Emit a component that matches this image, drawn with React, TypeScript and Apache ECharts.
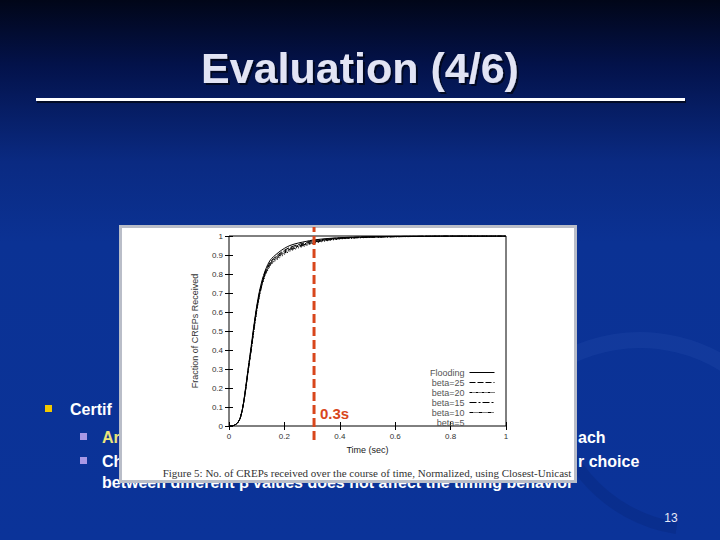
import React, { useEffect, useRef } from "react";
import * as echarts from "echarts";

// ---- data ----
const timeSec = [0, 0.01, 0.02, 0.03, 0.04, 0.05, 0.06, 0.07, 0.08, 0.09, 0.1, 0.11, 0.12, 0.13, 0.14, 0.15, 0.16, 0.18, 0.2, 0.22, 0.25, 0.28, 0.3, 0.35, 0.4, 0.45, 0.5, 0.6, 0.7, 0.8, 1.0];
const flooding = [0, 0, 0.005, 0.015, 0.04, 0.1, 0.2, 0.31, 0.42, 0.53, 0.63, 0.71, 0.77, 0.815, 0.85, 0.875, 0.89, 0.915, 0.935, 0.95, 0.963, 0.972, 0.978, 0.986, 0.991, 0.994, 0.996, 0.998, 0.999, 1, 1];
const beta25 = [0, 0, 0.005, 0.015, 0.04, 0.1, 0.2, 0.31, 0.41, 0.52, 0.62, 0.7, 0.76, 0.81, 0.84, 0.865, 0.88, 0.905, 0.925, 0.94, 0.955, 0.967, 0.974, 0.984, 0.99, 0.993, 0.995, 0.998, 0.999, 1, 1];
const beta20 = [0, 0, 0.005, 0.015, 0.04, 0.1, 0.19, 0.3, 0.41, 0.52, 0.62, 0.7, 0.755, 0.805, 0.835, 0.86, 0.875, 0.9, 0.92, 0.935, 0.95, 0.962, 0.97, 0.981, 0.988, 0.992, 0.995, 0.997, 0.999, 1, 1];
const beta15 = [0, 0, 0.005, 0.015, 0.04, 0.1, 0.19, 0.3, 0.4, 0.51, 0.61, 0.69, 0.75, 0.8, 0.83, 0.855, 0.87, 0.895, 0.915, 0.93, 0.946, 0.958, 0.967, 0.979, 0.987, 0.991, 0.994, 0.997, 0.999, 1, 1];
const beta10 = [0, 0, 0.005, 0.015, 0.04, 0.1, 0.19, 0.3, 0.4, 0.51, 0.61, 0.69, 0.75, 0.795, 0.825, 0.85, 0.865, 0.89, 0.91, 0.925, 0.942, 0.955, 0.964, 0.977, 0.986, 0.99, 0.993, 0.996, 0.998, 1, 1];
const beta5 = [0, 0, 0.005, 0.015, 0.04, 0.1, 0.19, 0.3, 0.4, 0.5, 0.6, 0.68, 0.745, 0.79, 0.82, 0.845, 0.86, 0.883, 0.903, 0.92, 0.937, 0.95, 0.96, 0.974, 0.984, 0.989, 0.992, 0.996, 0.998, 1, 1];

const seriesNames = ["Flooding", "beta=25", "beta=20", "beta=15", "beta=10", "beta=5"];
const seriesValues = [flooding, beta25, beta20, beta15, beta10, beta5];
const dashPatterns: any[] = ["solid", [6, 2], [3, 1, 1, 1], [7, 2, 2, 2], [4, 1, 1, 1, 1, 1], [1, 2]];

const cutoffTime = 0.307;
const cutoffLabel = "0.3s";

const xTicks = { min: 0, max: 1, interval: 0.2 };
const yTicks = { min: 0, max: 1, interval: 0.1 };

const titleText = "Evaluation (4/6)";
const captionText = "Figure 5: No. of CREPs received over the course of time, Normalized, using Closest-Unicast";

const SANS = "'Liberation Sans', Arial, sans-serif";

export default function App() {
  const ref = useRef<HTMLDivElement>(null);

  useEffect(() => {
    if (!ref.current) return;
    const chart = echarts.init(ref.current, undefined, { renderer: "svg" });

    const curveSeries = seriesNames.map((name, i) => ({
      name,
      type: "line",
      xAxisIndex: 0,
      yAxisIndex: 0,
      symbol: "none",
      smooth: 0.3,
      z: 6,
      lineStyle: { color: "#000", width: 1, type: dashPatterns[i] },
      itemStyle: { color: "#000" },
      data: timeSec.map((t, k) => [t, seriesValues[i][k]]),
    }));

    const slideText = (text: string, x: number, y: number, color = "#ffffff", extra: any = {}) => ({
      type: "text",
      z: 1,
      x,
      y,
      style: {
        text,
        fill: color,
        font: `bold 16px ${SANS}`,
        textVerticalAlign: "middle",
        verticalAlign: "middle",
        ...extra,
      },
    });

    const option: any = {
      animation: false,
      grid: [
        { left: 229, top: 236, width: 277, height: 190, show: true, borderColor: "#000", borderWidth: 1, backgroundColor: "transparent", z: 3 },
        { left: 229, top: 227, width: 277, height: 213, show: false, z: 3 },
      ],
      xAxis: [
        {
          type: "value", gridIndex: 0, position: "bottom", ...xTicks, z: 4,
          name: "Time (sec)", nameLocation: "middle", nameGap: 19,
          nameTextStyle: { fontFamily: SANS, fontSize: 9, color: "#222" },
          axisLine: { show: false },
          axisTick: { show: true, inside: true, length: 4, lineStyle: { color: "#000" } },
          axisLabel: { fontFamily: SANS, fontSize: 8, color: "#333", margin: 6 },
          splitLine: { show: false },
        },
        {
          type: "value", gridIndex: 0, position: "top", ...xTicks, z: 4,
          axisLine: { show: false },
          axisTick: { show: true, inside: true, length: 4, lineStyle: { color: "#000" } },
          axisLabel: { show: false },
          splitLine: { show: false },
        },
        { type: "value", gridIndex: 1, min: 0, max: 1, show: false },
      ],
      yAxis: [
        {
          type: "value", gridIndex: 0, position: "left", ...yTicks, z: 4,
          name: "Fraction of CREPs Received", nameLocation: "middle", nameGap: 30, nameRotate: 90,
          nameTextStyle: { fontFamily: SANS, fontSize: 9, color: "#333" },
          axisLine: { show: false },
          axisTick: { show: true, inside: true, length: 4, lineStyle: { color: "#000" } },
          axisLabel: { fontFamily: SANS, fontSize: 8, color: "#333", margin: 6 },
          splitLine: { show: false },
        },
        {
          type: "value", gridIndex: 0, position: "right", ...yTicks, z: 4,
          axisLine: { show: false },
          axisTick: { show: true, inside: true, length: 4, lineStyle: { color: "#000" } },
          axisLabel: { show: false },
          splitLine: { show: false },
        },
        { type: "value", gridIndex: 1, min: 0, max: 1, show: false },
      ],
      legend: {
        orient: "vertical",
        right: 225,
        top: 368,
        align: "right",
        padding: 0,
        itemWidth: 25,
        itemHeight: 8,
        itemGap: 1,
        z: 6,
        itemStyle: { opacity: 0 },
        lineStyle: { width: 1 },
        textStyle: { fontFamily: SANS, fontSize: 9, color: "#555", lineHeight: 8 },
        data: seriesNames.map((n) => (n === "beta=5" ? { name: n, lineStyle: { opacity: 0 } } : { name: n })),
      },
      series: [
        ...curveSeries,
        {
          name: "cutoff",
          type: "line",
          xAxisIndex: 2,
          yAxisIndex: 2,
          symbol: "none",
          z: 8,
          lineStyle: { color: "#d8461c", width: 3, type: [9, 4] },
          data: [[cutoffTime, 0], [cutoffTime, 1]],
        },
      ],
      graphic: [
        // slide background
        {
          type: "rect", z: 0, shape: { x: 0, y: 0, width: 720, height: 540 },
          style: {
            fill: new echarts.graphic.LinearGradient(0, 0, 0, 1, [
              { offset: 0, color: "#010618" },
              { offset: 0.12, color: "#03124a" },
              { offset: 0.3, color: "#0a2a82" },
              { offset: 0.45, color: "#0b3294" },
              { offset: 1, color: "#0b3399" },
            ]),
          },
        },
        // faint swirl on the right
        {
          type: "arc", z: 0,
          shape: { cx: 640, cy: 500, r: 160, startAngle: Math.PI * 1.05, endAngle: Math.PI * 1.75 },
          style: { stroke: "rgba(90,130,220,0.09)", lineWidth: 16, fill: "none" },
        },
        {
          type: "arc", z: 0,
          shape: { cx: 700, cy: 380, r: 150, startAngle: Math.PI * 0.55, endAngle: Math.PI * 1.0 },
          style: { stroke: "rgba(0,20,80,0.15)", lineWidth: 12, fill: "none" },
        },
        // title
        {
          type: "text", z: 1, x: 360, y: 68,
          style: {
            text: titleText, fill: "#e2e4f4", font: `bold 43px ${SANS}`,
            textAlign: "center", align: "center", textVerticalAlign: "middle", verticalAlign: "middle",
            textShadowColor: "rgba(0,0,0,0.6)", textShadowOffsetX: 2, textShadowOffsetY: 2, textShadowBlur: 1,
          },
        },
        {
          type: "rect", z: 1, shape: { x: 36, y: 98, width: 649, height: 3 },
          style: { fill: "#ffffff", shadowColor: "rgba(0,0,0,0.6)", shadowOffsetX: 1, shadowOffsetY: 2 },
        },
        // bullets
        { type: "rect", z: 1, shape: { x: 45, y: 405, width: 7, height: 7 }, style: { fill: "#f2c800" } },
        { type: "rect", z: 1, shape: { x: 80, y: 433, width: 7, height: 7 }, style: { fill: "#a898e6" } },
        { type: "rect", z: 1, shape: { x: 80, y: 457, width: 7, height: 7 }, style: { fill: "#a898e6" } },
        slideText("Certif", 70, 409),
        slideText("Ar", 102, 437, "#ece57a"),
        slideText("ach", 578, 437),
        slideText("Ch", 102, 461),
        slideText("r choice", 578, 461),
        slideText("between different \u03b2 values does not affect the timing behavior", 102, 482),
        {
          type: "text", z: 1, x: 671, y: 518,
          style: { text: "13", fill: "#e6e8f6", font: `12px ${SANS}`, textAlign: "center", align: "center", textVerticalAlign: "middle", verticalAlign: "middle" },
        },
        // embedded figure box
        {
          type: "rect", z: 2, shape: { x: 120.5, y: 226.5, width: 455, height: 255 },
          style: { fill: "#ffffff", stroke: "#b9bdc8", lineWidth: 3 },
        },
        {
          type: "text", z: 2, x: 367, y: 473,
          style: {
            text: captionText, fill: "#333", font: "11px 'Liberation Serif', 'Times New Roman', serif",
            textAlign: "center", align: "center", textVerticalAlign: "middle", verticalAlign: "middle",
          },
        },
        {
          type: "text", z: 10, x: 320, y: 413,
          style: {
            text: cutoffLabel, fill: "#d8461c", font: `bold 15px ${SANS}`,
            textVerticalAlign: "middle", verticalAlign: "middle",
          },
        },
      ],
    };

    chart.setOption(option);
    return () => chart.dispose();
  }, []);

  return <div ref={ref} style={{ position: "absolute", left: 0, top: 0, width: 720, height: 540 }} />;
}
